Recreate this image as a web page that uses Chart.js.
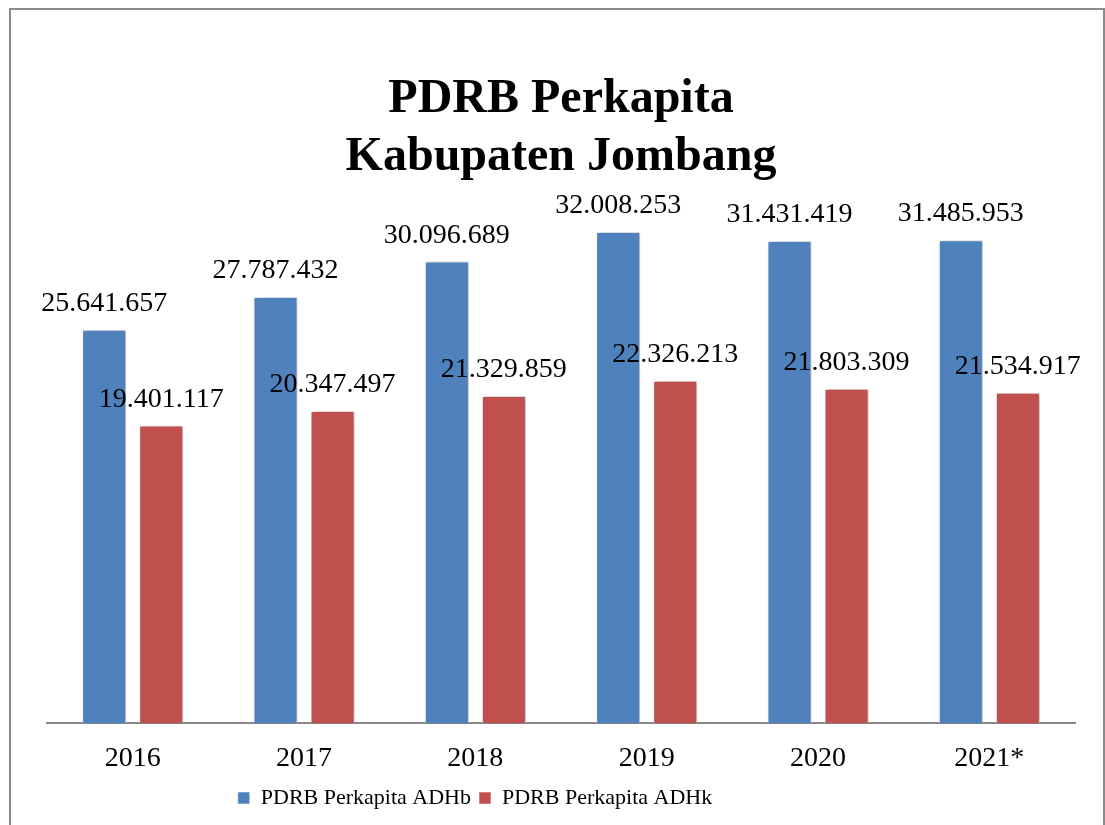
<!DOCTYPE html>
<html lang="id">
<head>
  <meta charset="UTF-8" />
  <title>PDRB Perkapita Kabupaten Jombang</title>
  <script src="https://cdn.jsdelivr.net/npm/chart.js"></script>
  <style>
    html, body { margin: 0; padding: 0; background: #fff; overflow: hidden; }
    #wrap { position: relative; width: 1105px; height: 825px; }
    #frame {
      position: absolute; left: 9px; top: 8px; width: 1092px; height: 840px;
      border: 2px solid #8a8a8a; pointer-events: none;
    }
    canvas { position: absolute; left: 0; top: 0; }
  </style>
</head>
<body>
  <div id="wrap">
    <canvas id="pdrbChart" width="1105" height="825"></canvas>
    <div id="frame"></div>
  </div>

  <script>
    // data
    const years = ['2016', '2017', '2018', '2019', '2020', '2021*'];
    const adhb = [25641657, 27787432, 30096689, 32008253, 31431419, 31485953];
    const adhk = [19401117, 20347497, 21329859, 22326213, 21803309, 21534917];
    const seriesNames = ['PDRB Perkapita ADHb', 'PDRB Perkapita ADHk'];
    const titleLines = ['PDRB Perkapita', 'Kabupaten Jombang'];

    const serif = "'Liberation Serif', 'Times New Roman', serif";

    // 25641657 -> 25.641.657
    function fmt(v) {
      return String(v).replace(/\B(?=(\d{3})+(?!\d))/g, '.');
    }

    // soft shadow behind the bars, then value labels on top
    const barDecor = {
      id: 'barDecor',
      beforeDatasetsDraw(chart) {
        const ctx = chart.ctx;
        ctx.save();
        ctx.shadowColor = 'rgba(0,0,0,0.30)';
        ctx.shadowBlur = 4;
        ctx.shadowOffsetX = 2;
        ctx.shadowOffsetY = 0;
      },
      afterDatasetsDraw(chart) {
        const ctx = chart.ctx;
        ctx.restore();
        ctx.save();
        ctx.font = '28px ' + serif;
        ctx.fillStyle = '#000';
        ctx.textAlign = 'center';
        ctx.textBaseline = 'middle';
        chart.data.datasets.forEach((ds, i) => {
          chart.getDatasetMeta(i).data.forEach((bar, j) => {
            ctx.fillText(fmt(ds.data[j]), bar.x, bar.y - 26);
          });
        });
        ctx.restore();
      }
    };

    // the legend in the reference sits left of centre
    const legendShift = {
      id: 'legendShift',
      afterLayout(chart) {
        const lg = chart.legend;
        if (lg) {
          lg.left -= 86;
          lg.right -= 86;
          lg.top -= 6;
          lg.bottom -= 6;
        }
      }
    };

    new Chart(document.getElementById('pdrbChart'), {
      type: 'bar',
      data: {
        labels: years,
        datasets: [
          {
            label: seriesNames[0],
            data: adhb,
            backgroundColor: '#4F81BD',
            borderColor: 'rgba(255,255,255,0.55)',
            borderWidth: 1,
            categoryPercentage: 0.666,
            barPercentage: 0.772
          },
          {
            label: seriesNames[1],
            data: adhk,
            backgroundColor: '#C0504D',
            borderColor: 'rgba(255,255,255,0.55)',
            borderWidth: 1,
            categoryPercentage: 0.666,
            barPercentage: 0.772
          }
        ]
      },
      options: {
        responsive: false,
        animation: false,
        devicePixelRatio: 1,
        layout: { padding: { top: 58, left: 47, right: 30, bottom: 0 } },
        scales: {
          x: {
            grid: { display: false },
            border: { display: true, color: '#888', width: 2 },
            ticks: { color: '#000', padding: 10, font: { family: serif, size: 28 } }
          },
          y: {
            display: false,
            min: 0,
            max: 35000000
          }
        },
        plugins: {
          title: {
            display: true,
            text: titleLines,
            color: '#000',
            padding: { top: 13, bottom: 0 },
            font: { family: serif, size: 48, weight: 'bold', lineHeight: 1.2 }
          },
          legend: {
            position: 'bottom',
            labels: {
              color: '#000',
              boxWidth: 12,
              boxHeight: 12,
              padding: 8,
              font: { family: serif, size: 22 }
            }
          },
          tooltip: { enabled: false }
        }
      },
      plugins: [barDecor, legendShift]
    });
  </script>
</body>
</html>
